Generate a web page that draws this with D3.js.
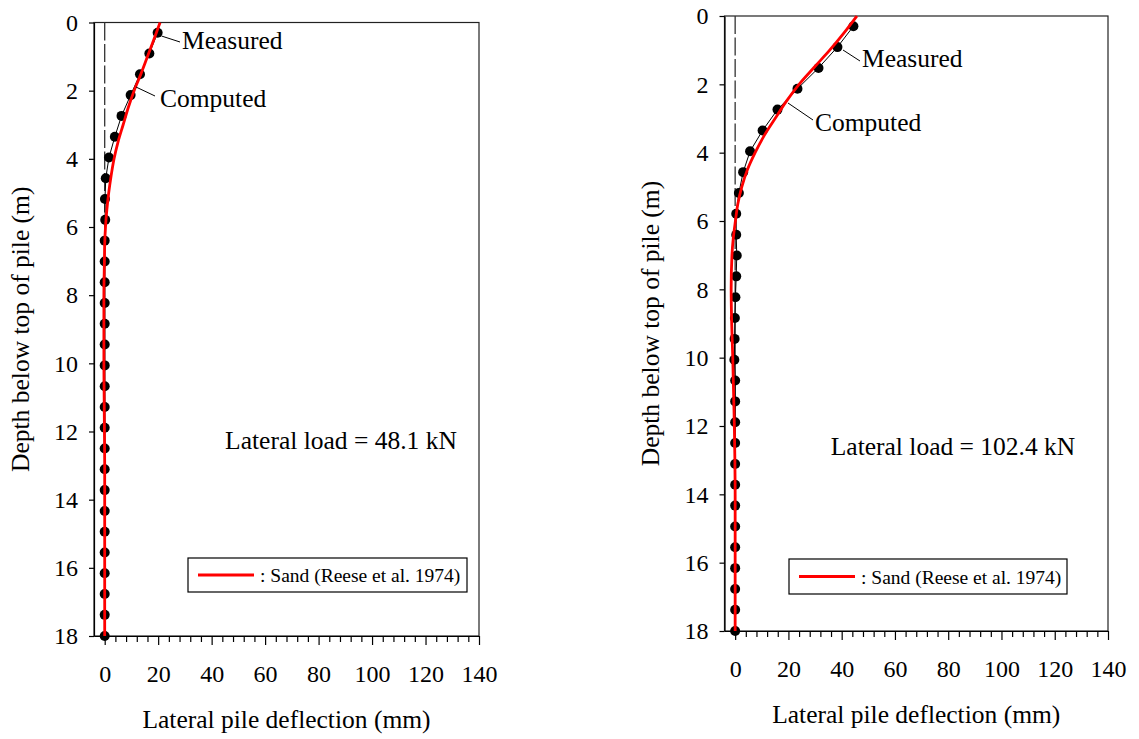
<!DOCTYPE html>
<html>
<head>
<meta charset="utf-8">
<script src="https://cdn.jsdelivr.net/npm/d3@7"></script>
<style>
  html, body { margin: 0; padding: 0; background: #fff; }
  svg { display: block; }
</style>
</head>
<body>
<svg id="chart" width="1139" height="739"></svg>
<script>
// ---------------- DATA ----------------
const xTicks = [0, 20, 40, 60, 80, 100, 120, 140];
const yTicks = [0, 2, 4, 6, 8, 10, 12, 14, 16, 18];

// Measurement depths (m)
const measuredDepth = [0.3, 0.91, 1.52, 2.13, 2.74, 3.35, 3.96, 4.57, 5.18, 5.79,
  6.4, 7.01, 7.62, 8.23, 8.84, 9.45, 10.06, 10.67, 11.28, 11.89,
  12.5, 13.11, 13.72, 14.33, 14.94, 15.55, 16.16, 16.77, 17.38, 18.0];

// Measured deflection (mm) – load 48.1 kN
const measuredLeft = [19.8, 16.7, 13.2, 9.7, 6.3, 3.8, 1.6, 0.4, 0.1, 0.2,
  0, 0, 0, 0, 0, 0, 0, 0, 0, 0,
  0, 0, 0, 0, 0, 0, 0, 0, 0, 0];

// Measured deflection (mm) – load 102.4 kN
const measuredRight = [44.4, 38.4, 31.3, 23.4, 15.9, 10.3, 5.6, 3.0, 1.4, 0.4,
  0.4, 0.6, 0.4, 0.1, -0.1, -0.2, -0.3, 0, 0, 0,
  0, 0, 0, 0, 0, 0, 0, 0, 0, 0];

// Computed curve depths (m)
const computedDepth = [0, 0.5, 1, 1.5, 2, 2.5, 3, 3.5, 4, 4.5, 5, 5.5, 6, 6.5, 7, 8, 9, 10, 11, 12, 13, 14, 15, 16, 17, 18];
// Computed deflection (mm) – Sand (Reese et al. 1974)
const computedLeft = [20.7, 18.4, 16.0, 13.6, 11.0, 8.8, 6.9, 5.0, 3.5, 2.4, 1.5, 0.8, 0.3, 0.0, -0.1, -0.3, -0.3, -0.3, -0.2, -0.1, 0, 0, 0, 0, 0, 0];
const computedRight = [45.7, 40.8, 35.5, 29.7, 24.0, 19.2, 15.0, 10.9, 7.5, 4.6, 2.5, 1.0, 0.1, -0.7, -1.2, -1.5, -1.3, -0.9, -0.6, -0.3, -0.1, 0, 0, 0, 0, 0];

const loadLabels = ["Lateral load = 48.1 kN", "Lateral load = 102.4 kN"];
const legendLabel = ": Sand (Reese et al. 1974)";
const xTitle = "Lateral pile deflection (mm)";
const yTitle = "Depth below top of pile (m)";

// ---------------- LAYOUT ----------------
const FONT = "Liberation Serif";
const charts = [
  {
    left: 94, right: 479, top: 22.5, bottom: 636,
    measured: measuredLeft, computed: computedLeft, load: loadLabels[0],
    loadPos: [341, 449],
    yTitleX: 29,
    legend: { x: 188, y: 558, w: 279, h: 34 },
    measLeader: [[161.5, 36], [180, 42]], measText: [182, 49],
    compLeader: [[136, 87], [155, 96]], compText: [160, 107]
  },
  {
    left: 724.5, right: 1108, top: 16, bottom: 631,
    measured: measuredRight, computed: computedRight, load: loadLabels[1],
    loadPos: [953, 455],
    yTitleX: 659,
    legend: { x: 789, y: 559, w: 278, h: 35 },
    measLeader: [[843, 50], [860, 61]], measText: [862, 67],
    compLeader: [[788, 103], [813, 120]], compText: [815, 131]
  }
];

const svg = d3.select("#chart");

charts.forEach(c => {
  const x = d3.scaleLinear().domain([-4, 140]).range([c.left, c.right]);
  const y = d3.scaleLinear().domain([0, 18]).range([c.top, c.bottom]);
  const g = svg.append("g");

  // frame
  g.append("rect")
    .attr("x", c.left).attr("y", c.top)
    .attr("width", c.right - c.left).attr("height", c.bottom - c.top)
    .attr("fill", "none").attr("stroke", "#222").attr("stroke-width", 1.2);

  // minor x ticks
  const minor = d3.range(4, 140, 4).filter(v => v % 20 !== 0);
  g.append("g").attr("transform", `translate(0,${c.bottom})`)
    .call(d3.axisBottom(x).tickValues(minor).tickSize(6).tickFormat(""))
    .call(a => a.select(".domain").remove())
    .selectAll("line").attr("stroke", "#000").attr("stroke-width", 1.2);

  // major x axis
  const xa = g.append("g").attr("transform", `translate(0,${c.bottom})`)
    .call(d3.axisBottom(x).tickValues(xTicks).tickSize(9).tickPadding(20).tickSizeOuter(0));
  xa.attr("font-family", FONT).attr("font-size", 24);
  xa.select(".domain").attr("stroke", "#000").attr("stroke-width", 1.2);
  xa.selectAll("line").attr("stroke", "#000").attr("stroke-width", 1.2);
  xa.selectAll("text").attr("font-family", FONT).attr("font-size", 24).attr("fill", "#000");

  // y axis
  const ya = g.append("g").attr("transform", `translate(${c.left},0)`)
    .call(d3.axisLeft(y).tickValues(yTicks).tickSize(5).tickPadding(11).tickSizeOuter(0));
  ya.attr("font-family", FONT).attr("font-size", 24);
  ya.select(".domain").attr("stroke", "#000").attr("stroke-width", 1.2);
  ya.selectAll("line").attr("stroke", "#000").attr("stroke-width", 1.2);
  ya.selectAll("text").attr("font-family", FONT).attr("font-size", 24).attr("fill", "#000");

  // dashed zero line
  g.append("line")
    .attr("x1", x(0)).attr("x2", x(0)).attr("y1", y(0)).attr("y2", y(18))
    .attr("stroke", "#333").attr("stroke-width", 1.3).attr("stroke-dasharray", "18,3.5");

  // measured line + points
  const mData = measuredDepth.map((d, i) => [c.measured[i], d]);
  g.append("path").datum(mData)
    .attr("fill", "none").attr("stroke", "#000").attr("stroke-width", 1)
    .attr("d", d3.line().x(d => x(d[0])).y(d => y(d[1])));
  g.selectAll("circle.pt").data(mData).enter().append("circle")
    .attr("class", "pt")
    .attr("cx", d => x(d[0])).attr("cy", d => y(d[1])).attr("r", 5)
    .attr("fill", "#000");

  // computed curve
  const cData = computedDepth.map((d, i) => [c.computed[i], d]);
  g.append("path").datum(cData)
    .attr("fill", "none").attr("stroke", "#ff0000").attr("stroke-width", 2.8)
    .attr("d", d3.line().curve(d3.curveMonotoneY).x(d => x(d[0])).y(d => y(d[1])));

  const txt = (sel, size) => sel.attr("font-family", FONT).attr("font-size", size).attr("fill", "#000");

  // annotations
  const ann = (pts, t, pos) => {
    g.append("line")
      .attr("x1", pts[0][0]).attr("y1", pts[0][1]).attr("x2", pts[1][0]).attr("y2", pts[1][1])
      .attr("stroke", "#000").attr("stroke-width", 1);
    txt(g.append("text").attr("x", pos[0]).attr("y", pos[1]), 25.5).text(t);
  };
  ann(c.measLeader, "Measured", c.measText);
  ann(c.compLeader, "Computed", c.compText);

  // load label
  txt(g.append("text").attr("x", c.loadPos[0]).attr("y", c.loadPos[1])
    .attr("text-anchor", "middle"), 25.5).text(c.load);

  // legend
  const L = c.legend;
  g.append("rect").attr("x", L.x).attr("y", L.y).attr("width", L.w).attr("height", L.h)
    .attr("fill", "#fff").attr("stroke", "#000").attr("stroke-width", 1.2);
  g.append("line").attr("x1", L.x + 10).attr("x2", L.x + 66)
    .attr("y1", L.y + L.h / 2).attr("y2", L.y + L.h / 2)
    .attr("stroke", "#ff0000").attr("stroke-width", 2.8);
  txt(g.append("text").attr("x", L.x + 72).attr("y", L.y + L.h / 2 + 7), 19.5).text(legendLabel);

  // axis titles
  txt(g.append("text")
    .attr("x", (c.left + c.right) / 2).attr("y", c.bottom + 92)
    .attr("text-anchor", "middle"), 25.5).text(xTitle);
  txt(g.append("text")
    .attr("transform", `translate(${c.yTitleX},${(c.top + c.bottom) / 2}) rotate(-90)`)
    .attr("text-anchor", "middle"), 25.5).text(yTitle);
});
</script>
</body>
</html>
